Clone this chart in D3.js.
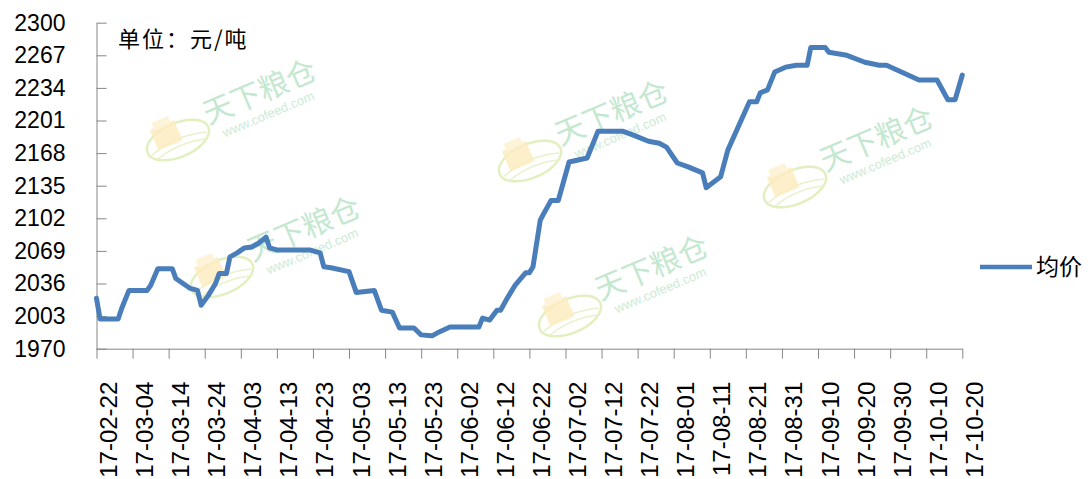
<!DOCTYPE html>
<html>
<head>
<meta charset="utf-8">
<script src="https://cdn.jsdelivr.net/npm/d3@7"></script>
<style>
  body { margin: 0; background: #fff; }
  svg text { font-family: "Liberation Sans", Arial, sans-serif; }
  .cjk { font-family: "Noto Sans CJK SC", sans-serif; }
</style>
</head>
<body>
<div id="chart"></div>
<script>
// values (date, average price)
const dates = [
  '2017-02-22', '2017-02-23', '2017-02-28', '2017-03-01', '2017-03-03', '2017-03-08', '2017-03-09',
  '2017-03-11', '2017-03-15', '2017-03-16', '2017-03-20', '2017-03-22', '2017-03-23', '2017-03-25',
  '2017-03-27', '2017-03-28', '2017-03-30', '2017-03-31', '2017-04-02', '2017-04-04', '2017-04-06',
  '2017-04-08', '2017-04-10', '2017-04-11', '2017-04-13', '2017-04-22', '2017-04-25', '2017-04-26',
  '2017-04-28', '2017-05-03', '2017-05-05', '2017-05-10', '2017-05-12', '2017-05-15', '2017-05-17',
  '2017-05-21', '2017-05-23', '2017-05-26', '2017-05-28', '2017-05-31', '2017-06-08', '2017-06-09',
  '2017-06-11', '2017-06-13', '2017-06-14', '2017-06-16', '2017-06-18', '2017-06-21', '2017-06-22',
  '2017-06-23', '2017-06-25', '2017-06-26', '2017-06-28', '2017-06-30', '2017-07-03', '2017-07-08',
  '2017-07-11', '2017-07-18', '2017-07-21', '2017-07-25', '2017-07-28', '2017-07-30', '2017-08-02',
  '2017-08-05', '2017-08-09', '2017-08-10', '2017-08-14', '2017-08-16', '2017-08-22', '2017-08-24',
  '2017-08-25', '2017-08-27', '2017-08-29', '2017-09-01', '2017-09-04', '2017-09-07', '2017-09-08',
  '2017-09-12', '2017-09-13', '2017-09-18', '2017-09-23', '2017-09-27', '2017-09-29', '2017-10-08',
  '2017-10-13', '2017-10-16', '2017-10-18', '2017-10-20',
];
const prices = [
  2021, 2000, 2000, 2011, 2029, 2029, 2034,
  2051, 2051, 2041, 2031, 2029, 2014, 2024,
  2036, 2046, 2046, 2063, 2067, 2072, 2073,
  2077, 2083, 2072, 2070, 2070, 2067, 2053,
  2052, 2048, 2027, 2029, 2009, 2007, 1991,
  1991, 1984, 1983, 1987, 1992, 1992, 2001,
  1999, 2009, 2009, 2022, 2034, 2047, 2047,
  2053, 2100, 2107, 2120, 2120, 2159, 2163,
  2190, 2190, 2186, 2180, 2178, 2174, 2158,
  2154, 2148, 2133, 2144, 2171, 2220, 2220,
  2229, 2232, 2250, 2255, 2257, 2257, 2275,
  2275, 2270, 2267, 2260, 2257, 2257, 2242,
  2242, 2222, 2222, 2247,
];
const yTicks = [1970, 2003, 2036, 2069, 2102, 2135, 2168, 2201, 2234, 2267, 2300];
const xTickLabels = [
  '17-02-22', '17-03-04', '17-03-14', '17-03-24', '17-04-03', '17-04-13', '17-04-23', '17-05-03',
  '17-05-13', '17-05-23', '17-06-02', '17-06-12', '17-06-22', '17-07-02', '17-07-12', '17-07-22',
  '17-08-01', '17-08-11', '17-08-21', '17-08-31', '17-09-10', '17-09-20', '17-09-30', '17-10-10',
  '17-10-20',
];
const seriesName = '均价';
const unitLabel = '单位：元/吨';

// watermark anchors (logo centre)
const marks = [[178, 140], [530, 161], [795, 187], [222, 277], [570, 316]];

const width = 1090;
const height = 479;
const margin = { top: 22.7, right: 127.7, bottom: 130.3, left: 96.5 };
const chartWidth = width - margin.left - margin.right;
const chartHeight = height - margin.top - margin.bottom;

const parseDay = d3.timeParse('%Y-%m-%d');
const parseTick = d3.timeParse('%y-%m-%d');
const data = dates.map((d, i) => ({ date: parseDay(d), value: prices[i] }));
const tickDates = xTickLabels.map(parseTick);

const svg = d3.select('#chart').append('svg').attr('width', width).attr('height', height);

// watermarks
const wm = svg.append('g').attr('class', 'watermarks');
marks.forEach(([cx, cy]) => {
  const g = wm.append('g').attr('transform', `translate(${cx},${cy}) rotate(-23)`);
  g.append('ellipse').attr('rx', 33).attr('ry', 17)
    .attr('fill', 'none').attr('stroke', '#e2efbf').attr('stroke-width', 2.5);
  g.append('path').attr('d', 'M-30,4 Q0,-6 30,4 M-26,10 Q0,2 26,10').attr('fill', 'none')
    .attr('stroke', '#e9f2cc').attr('stroke-width', 1.5);
  g.append('rect').attr('x', -22).attr('y', -20).attr('width', 26).attr('height', 22)
    .attr('fill', '#fcecc0').attr('opacity', 0.85);
  g.append('rect').attr('x', -18).attr('y', -26).attr('width', 18).attr('height', 8)
    .attr('fill', '#fdf3d9');
  g.append('text').attr('class', 'cjk').attr('x', 34).attr('y', -2)
    .attr('font-size', 30).attr('fill', '#c4e8cf')
    .text('天下粮仓');
  g.append('text').attr('x', 44).attr('y', 16)
    .attr('font-size', 13).attr('fill', '#cdebd6')
    .text('www.cofeed.com');
});

const chart = svg.append('g').attr('transform', `translate(${margin.left},${margin.top})`);

const xScale = d3.scaleTime().domain([tickDates[0], tickDates[tickDates.length - 1]]).range([0, chartWidth]);
const yScale = d3.scaleLinear().domain([1970, 2300]).range([chartHeight, 0]);

// axes
const yAxis = d3.axisLeft(yScale).tickValues(yTicks).tickFormat(d3.format('d'))
  .tickSizeInner(-10).tickSizeOuter(0).tickPadding(31);
const yG = chart.append('g').attr('class', 'y axis').call(yAxis);
yG.selectAll('path, line').attr('stroke', '#868686');
yG.selectAll('text').attr('font-size', 23).attr('fill', '#000').attr('font-family', '"Liberation Sans", Arial, sans-serif');

const xAxis = d3.axisBottom(xScale).tickValues(tickDates).tickSizeInner(10).tickSizeOuter(0)
  .tickFormat(d3.timeFormat('%y-%m-%d'));
const xG = chart.append('g').attr('class', 'x axis').attr('transform', `translate(0,${chartHeight})`).call(xAxis);
xG.selectAll('path, line').attr('stroke', '#868686');
xG.selectAll('text')
  .attr('font-size', 24).attr('fill', '#000').attr('font-family', '"Liberation Sans", Arial, sans-serif')
  .attr('transform', 'rotate(-90)')
  .attr('text-anchor', 'end')
  .attr('x', -33).attr('y', 0).attr('dy', 20);

// line
const line = d3.line().x((d) => xScale(d.date)).y((d) => yScale(d.value));
chart.append('path').datum(data)
  .attr('d', line)
  .attr('fill', 'none')
  .attr('stroke', '#4a7ebb')
  .attr('stroke-width', 5)
  .attr('stroke-linejoin', 'round')
  .attr('stroke-linecap', 'round');

// unit label
svg.append('text').attr('class', 'cjk').attr('x', 118).attr('y', 47)
  .attr('font-size', 22).attr('letter-spacing', 2).attr('fill', '#000').text(unitLabel);

// legend
const legend = svg.append('g').attr('transform', 'translate(980,267)');
legend.append('line').attr('x1', 0).attr('x2', 52).attr('stroke', '#4a7ebb').attr('stroke-width', 4.5);
legend.append('text').attr('class', 'cjk').attr('x', 56).attr('dy', '0.36em')
  .attr('font-size', 23).attr('fill', '#000').text(seriesName);
</script>
</body>
</html>
